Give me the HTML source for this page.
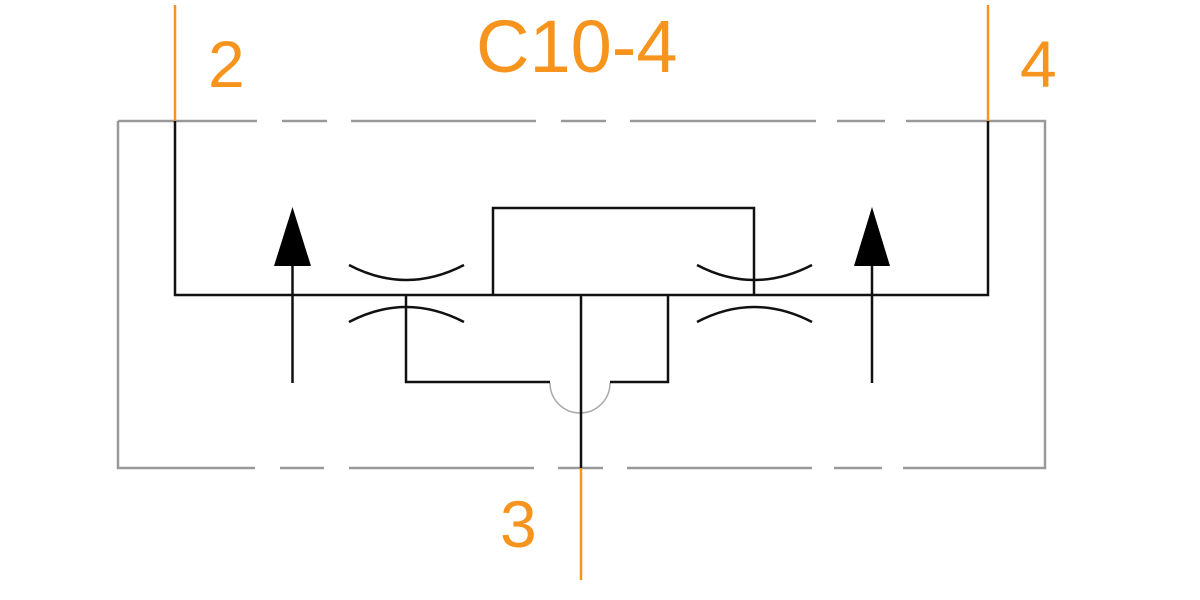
<!DOCTYPE html>
<html><head><style>html,body{margin:0;padding:0;background:#fff;width:1200px;height:600px;overflow:hidden}</style></head>
<body>
<svg width="1200" height="600" viewBox="0 0 1200 600" xmlns="http://www.w3.org/2000/svg">
<g stroke="#999" stroke-width="2.5" fill="none">
<path d="M118 121H257M282 121H327M351 121H536M561 121H606M630 121H816M837 121H885M906 121H1045V468H903M882 468H834M812 468H627M603 468H558M534 468H349M324 468H280M255 468H118V121"/>
<path d="M550 383 A30 30 0 0 0 610 383" stroke="#aaa" stroke-width="1.5"/>
</g>
<g stroke="#f7941d" stroke-width="2.5">
<line x1="175" y1="5" x2="175" y2="121"/>
<line x1="988" y1="5" x2="988" y2="121"/>
<line x1="581" y1="468" x2="581" y2="580"/>
</g>
<g stroke="#111" stroke-width="2.5" fill="none">
<path d="M175 121V295H988V121"/>
<path d="M493 295V208H754V295"/>
<path d="M581 295V468"/>
<path d="M406 295V382H550M610 382H668V295"/>
<path d="M292.5 265V383M872 265V383"/>
<path d="M349 265Q406 295 464 265M349 322Q406 292 464 322"/>
<path d="M697 265Q754 295 812 265M697 322Q754 292 812 322"/>
</g>
<g fill="#000">
<polygon points="292.5,207 274,266 311,266"/>
<polygon points="872,207 854,266 890,266"/>
</g>
<g fill="#f7941d" font-family="Liberation Sans, sans-serif">
<text x="208" y="87" font-size="66">2</text>
<text x="476" y="72" font-size="74">C10-4</text>
<text x="1020" y="87" font-size="66">4</text>
<text x="500" y="547" font-size="66">3</text>
</g>
</svg>
</body></html>
